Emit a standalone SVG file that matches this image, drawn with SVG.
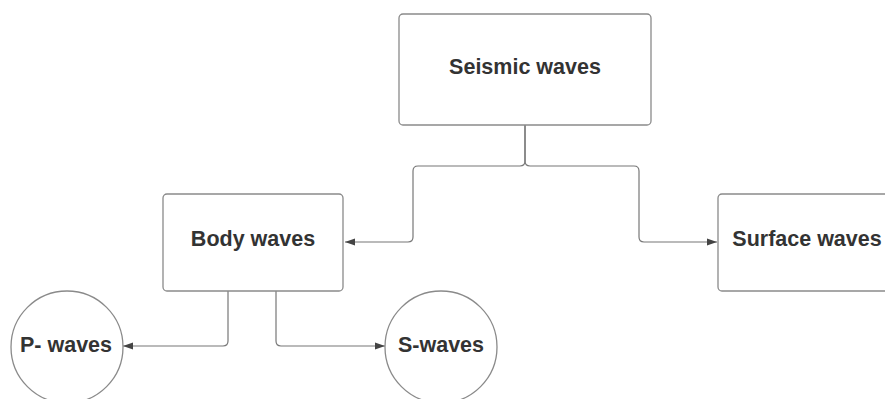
<svg xmlns="http://www.w3.org/2000/svg" width="885" height="399" viewBox="0 0 885 399">
<style>
.node{fill:#fff;stroke:#8a8a8a;stroke-width:1.3}
.lbl{font-family:"Liberation Sans",Arial,sans-serif;font-weight:bold;font-size:21.5px;fill:#333;text-anchor:middle}
.conn{fill:none;stroke:#777;stroke-width:1.2}
</style>
<defs>
<marker id="arr" viewBox="0 0 10 10" refX="10" refY="5" markerWidth="10" markerHeight="10" markerUnits="userSpaceOnUse" orient="auto">
<path d="M0,1.5 L10,5 L0,8.5 Z" fill="#444"/>
</marker>
</defs>
<rect width="885" height="399" fill="#fff"/>
<g id="connectors">
<path class="conn" d="M525,125 V161 Q525,166 520,166 H418 Q413,166 413,171 V237 Q413,242 408,242 H345" marker-end="url(#arr)"/>
<path class="conn" d="M525,125 V161 Q525,166 530,166 H634 Q639,166 639,171 V237 Q639,242 644,242 H717" marker-end="url(#arr)"/>
<path class="conn" d="M228,291 V341 Q228,346 223,346 H123" marker-end="url(#arr)"/>
<path class="conn" d="M276,291 V341 Q276,346 281,346 H385" marker-end="url(#arr)"/>
</g>
<g id="seismic">
<rect class="node" x="399" y="14" width="252" height="111" rx="4"/>
<text class="lbl" x="525" y="74">Seismic waves</text>
</g>
<g id="body">
<rect class="node" x="163" y="194" width="180" height="97" rx="4"/>
<text class="lbl" x="253" y="246">Body waves</text>
</g>
<g id="surface">
<rect class="node" x="718" y="194" width="180" height="97" rx="4"/>
<text class="lbl" x="807" y="246">Surface waves</text>
</g>
<g id="pwaves">
<circle class="node" cx="67" cy="347" r="56"/>
<text class="lbl" x="66" y="352">P- waves</text>
</g>
<g id="swaves">
<circle class="node" cx="441" cy="347" r="56"/>
<text class="lbl" x="441" y="352">S-waves</text>
</g>
</svg>
